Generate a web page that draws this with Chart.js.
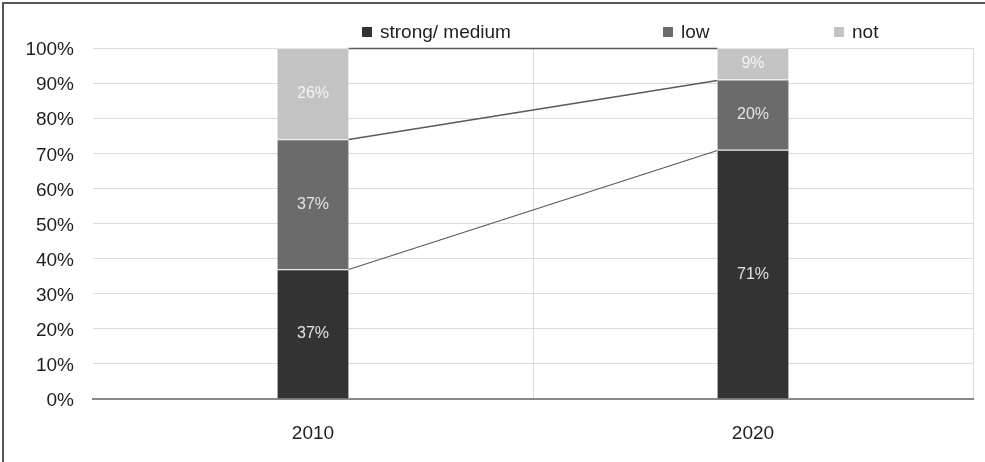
<!DOCTYPE html>
<html>
<head>
<meta charset="utf-8">
<script src="https://cdn.jsdelivr.net/npm/chart.js@4.4.1/dist/chart.umd.min.js"></script>
<style>
    html, body { margin: 0; padding: 0; background: #fff; }
    #wrap { position: relative; width: 985px; height: 462px; overflow: hidden; font-family: "Liberation Sans", Arial, sans-serif; }
    #frame { position: absolute; left: 2px; top: 2px; right: -5px; bottom: -5px; border-top: 2px solid #555; border-left: 2px solid #555; pointer-events: none; }
    #legend { position: absolute; top: 20px; left: 0; width: 985px; height: 26px; }
    .item { position: absolute; top: 0; font-size: 19px; color: #1e1e1e; line-height: 24px; white-space: nowrap; }
    .box { display: inline-block; width: 10px; height: 10px; margin-right: 8px; vertical-align: 1px; }
    canvas { position: absolute; left: 0; top: 0; }
</style>
</head>
<body>
<div id="wrap">
    <canvas id="chart" width="985" height="462"></canvas>
    <div id="legend"></div>
    <div id="frame"></div>
</div>
<script>
// share of respondents per year, stacked to 100%
const years = ['2010', '2020'];
const strongMedium = [37, 71];
const low = [37, 20];
const notAtAll = [26, 9];

const seriesNames = ['strong/ medium', 'low', 'not'];
const seriesColors = ['#333333', '#6b6b6b', '#c3c3c3'];
const labelColors = ['#e4e4e4', '#e4e4e4', '#f4f4f4'];
const legendLeft = [362, 663, 834];

// connector lines between the two stacks, at every segment boundary
const seriesLines = {
    id: 'seriesLines',
    afterDatasetsDraw(chart) {
        const ctx = chart.ctx;
        const y = chart.scales.y;
        ctx.save();
        ctx.strokeStyle = '#5a5a5a';
        ctx.lineWidth = 1.3;
        const totals = [0, 0];
        chart.data.datasets.forEach((ds, di) => {
            const meta = chart.getDatasetMeta(di);
            totals[0] += ds.data[0];
            totals[1] += ds.data[1];
            const a = meta.data[0], b = meta.data[1];
            ctx.beginPath();
            ctx.moveTo(a.x + a.width / 2, Math.round(y.getPixelForValue(totals[0])) + 0.5);
            ctx.lineTo(b.x - b.width / 2, Math.round(y.getPixelForValue(totals[1])) + 0.5);
            ctx.stroke();
        });
        ctx.restore();
    }
};

// value labels in the middle of each segment
const segmentLabels = {
    id: 'segmentLabels',
    afterDatasetsDraw(chart) {
        const ctx = chart.ctx;
        ctx.save();
        ctx.font = '16px "Liberation Sans", Arial, sans-serif';
        ctx.textAlign = 'center';
        ctx.textBaseline = 'middle';
        chart.data.datasets.forEach((ds, di) => {
            chart.getDatasetMeta(di).data.forEach((bar, i) => {
                ctx.fillStyle = labelColors[di];
                ctx.fillText(ds.data[i] + '%', bar.x, (bar.y + bar.base) / 2);
            });
        });
        ctx.restore();
    }
};

const datasets = [strongMedium, low, notAtAll].map((vals, i) => ({
    label: seriesNames[i],
    data: vals,
    backgroundColor: seriesColors[i],
    borderColor: '#e6e6e6',
    borderWidth: { top: 1, left: 0, right: 0, bottom: 0 },
    borderSkipped: false,
    categoryPercentage: 1,
    barPercentage: 0.162
}));

new Chart(document.getElementById('chart'), {
    type: 'bar',
    data: { labels: years, datasets },
    options: {
        responsive: false,
        animation: false,
        layout: { padding: { top: 48, right: 12, bottom: 0, left: 0 } },
        plugins: { legend: { display: false }, tooltip: { enabled: false } },
        scales: {
            x: {
                stacked: true,
                grid: {
                    offset: true,
                    drawTicks: false,
                    color: c => c.index === 0 ? 'rgba(0,0,0,0)' : '#dcdcdc',
                    lineWidth: 1
                },
                border: { color: '#888', width: 2 },
                ticks: { padding: 23, color: '#1e1e1e', font: { size: 19, family: '"Liberation Sans", Arial, sans-serif' } },
                afterFit: s => { s.height = 63; }
            },
            y: {
                stacked: true,
                min: 0,
                max: 100,
                grid: { drawTicks: false, color: '#dcdcdc' },
                border: { display: false },
                ticks: {
                    stepSize: 10,
                    padding: 19,
                    labelOffset: 2,
                    color: '#1e1e1e',
                    font: { size: 19, family: '"Liberation Sans", Arial, sans-serif' },
                    callback: v => v + '%'
                },
                afterFit: s => { s.width = 93; }
            }
        }
    },
    plugins: [seriesLines, segmentLabels]
});

// legend items spread along the top
const legend = document.getElementById('legend');
seriesNames.forEach((name, i) => {
    const el = document.createElement('div');
    el.className = 'item';
    el.style.left = legendLeft[i] + 'px';
    el.innerHTML = '<span class="box" style="background:' + seriesColors[i] + '"></span>' + name;
    legend.appendChild(el);
});
</script>
</body>
</html>
